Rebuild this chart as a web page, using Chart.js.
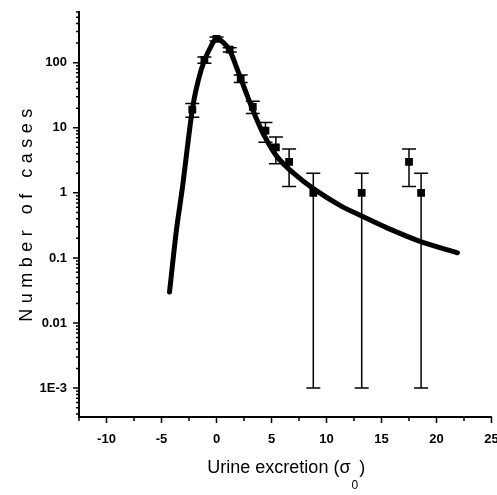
<!DOCTYPE html>
<html>
<head>
<meta charset="utf-8">
<script src="https://cdn.jsdelivr.net/npm/chart.js@4.4.1/dist/chart.umd.min.js"></script>
<style>
  html, body { margin: 0; padding: 0; background: #fff; }
  #wrap { width: 497px; height: 495px; }
</style>
</head>
<body>
<div id="wrap"><canvas id="chart"></canvas></div>
<script>
// --- data ---
// measured cases (squares) with error bars
const pointX    = [-2.2, -1.1, 0, 1.2, 2.2, 3.3, 4.45, 5.4, 6.6, 8.8, 13.2, 17.5, 18.6];
const pointY    = [19, 110, 232, 158, 57, 21, 9, 5, 3, 1, 1, 3, 1];
const errLow    = [14.5, 98, 215, 146, 49.5, 16.5, 6, 2.8, 1.25, 0.001, 0.001, 1.25, 0.001];
const errHigh   = [23.5, 122, 248, 170, 64.5, 25.5, 12, 7.2, 4.7, 2, 2, 4.7, 2];

// fitted curve
const curveX = [-4.27, -3.65, -3.1, -2.2, -1.65, -1.1, -0.5, 0, 0.6, 1.2, 1.9, 2.6, 3.4, 4.3, 5.5, 7.0, 8.8, 11.3, 13.2, 15.5, 18.5, 21.9];
const curveY = [0.03, 0.26, 1.2, 19, 54, 108, 178, 235, 205, 155, 78, 38, 17, 7.8, 3.6, 2.0, 1.16, 0.63, 0.44, 0.29, 0.18, 0.12];

// axis labels
const yTickValues = [0.001, 0.01, 0.1, 1, 10, 100];
const yTickLabels = ['1E-3', '0.01', '0.1', '1', '10', '100'];
const xTitle = 'Urine excretion (σ';
const xTitleSub = '0';
const yTitle = 'Number of cases';

const tickFont = {family: 'Liberation Sans', size: 13, weight: 'bold'};

function yLabel(v) {
  for (let i = 0; i < yTickValues.length; i++) {
    if (Math.abs(v / yTickValues[i] - 1) < 1e-6) return yTickLabels[i];
  }
  return '';
}

// --- error bars, drawn through the scales ---
const errorBars = {
  id: 'errorBars',
  afterDatasetsDraw(chart) {
    const {ctx, scales: {x, y}} = chart;
    ctx.save();
    ctx.strokeStyle = '#000';
    ctx.lineWidth = 1.5;
    pointX.forEach((px, i) => {
      const cx = x.getPixelForValue(px);
      const top = y.getPixelForValue(errHigh[i]);
      const bot = y.getPixelForValue(errLow[i]);
      ctx.beginPath();
      ctx.moveTo(cx, top); ctx.lineTo(cx, bot);
      ctx.moveTo(cx - 7, top); ctx.lineTo(cx + 7, top);
      ctx.moveTo(cx - 7, bot); ctx.lineTo(cx + 7, bot);
      ctx.stroke();
    });
    ctx.restore();
  }
};

// --- outward tick marks (major / minor) and axis titles ---
const axisDecor = {
  id: 'axisDecor',
  afterDraw(chart) {
    const {ctx, scales: {x, y}, chartArea} = chart;
    ctx.save();
    ctx.strokeStyle = '#000';
    ctx.lineWidth = 1.5;
    ctx.beginPath();
    x.ticks.forEach(t => {
      const px = x.getPixelForValue(t.value);
      const len = (t.value % 5 === 0) ? 6 : 4;
      ctx.moveTo(px, chartArea.bottom); ctx.lineTo(px, chartArea.bottom + len);
    });
    y.ticks.forEach(t => {
      const py = y.getPixelForValue(t.value);
      const len = yLabel(t.value) ? 6 : 3;
      ctx.moveTo(chartArea.left, py); ctx.lineTo(chartArea.left - len, py);
    });
    ctx.stroke();

    // x title with subscript
    ctx.fillStyle = '#000';
    ctx.textBaseline = 'alphabetic';
    const mainFont = '18px "Liberation Sans"';
    const subFont = '12px "Liberation Sans"';
    ctx.font = mainFont;
    const w1 = ctx.measureText(xTitle).width;
    const w3 = ctx.measureText(')').width;
    ctx.font = subFont;
    const w2 = ctx.measureText(xTitleSub).width;
    const cx = (chartArea.left + chartArea.right) / 2;
    let sx = cx - (w1 + w2 + w3) / 2;
    const base = 473;
    ctx.font = mainFont;
    ctx.textAlign = 'left';
    ctx.fillText(xTitle, sx, base);
    ctx.font = subFont;
    ctx.fillText(xTitleSub, sx + w1 + 1, base + 16);
    ctx.font = mainFont;
    ctx.fillText(')', sx + w1 + w2 + 2, base);

    // y title, letter spaced
    ctx.translate(27, (chartArea.top + chartArea.bottom) / 2);
    ctx.rotate(-Math.PI / 2);
    ctx.font = '18px "Liberation Sans"';
    ctx.letterSpacing = '5.5px';
    ctx.textAlign = 'center';
    ctx.textBaseline = 'middle';
    ctx.fillText(yTitle, 2, 0);
    ctx.restore();
  }
};

new Chart(document.getElementById('chart'), {
  type: 'scatter',
  data: {
    datasets: [
      {
        label: 'fit',
        data: curveX.map((v, i) => ({x: v, y: curveY[i]})),
        showLine: true,
        borderColor: '#000',
        borderWidth: 5,
        pointRadius: 0,
        tension: 0.3,
        borderCapStyle: 'round'
      },
      {
        label: 'cases',
        data: pointX.map((v, i) => ({x: v, y: pointY[i]})),
        pointStyle: 'rect',
        pointRadius: 5.5,
        backgroundColor: '#000',
        borderColor: '#000',
        borderWidth: 0
      }
    ]
  },
  options: {
    responsive: true,
    maintainAspectRatio: false,
    animation: false,
    layout: {padding: {top: 12, right: 5, left: 0, bottom: 0}},
    plugins: {legend: {display: false}, tooltip: {enabled: false}},
    scales: {
      x: {
        type: 'linear',
        min: -12.5,
        max: 25,
        grid: {display: false, drawTicks: false},
        border: {display: true, color: '#000', width: 2},
        ticks: {
          stepSize: 2.5,
          autoSkip: false,
          maxRotation: 0,
          padding: 15,
          color: '#000',
          font: tickFont,
          callback: v => (v % 5 === 0 ? String(v) : '')
        },
        afterFit(s) { s.height = 78; s.paddingLeft = 0; s.paddingRight = 0; }
      },
      y: {
        type: 'logarithmic',
        min: 3.6e-4,
        max: 600,
        grid: {display: false, drawTicks: false},
        border: {display: true, color: '#000', width: 2},
        afterBuildTicks(s) {
          const ticks = [];
          for (let e = -4; e <= 2; e++) {
            for (let m = 1; m <= 9; m++) {
              const v = m * Math.pow(10, e);
              if (v >= s.min && v <= s.max) ticks.push({value: v});
            }
          }
          s.ticks = ticks;
        },
        ticks: {
          autoSkip: false,
          padding: 12,
          color: '#000',
          font: tickFont,
          callback: v => yLabel(v)
        },
        afterFit(s) { s.width = 79; s.paddingTop = 0; s.paddingBottom = 0; }
      }
    }
  },
  plugins: [errorBars, axisDecor]
});
</script>
</body>
</html>
